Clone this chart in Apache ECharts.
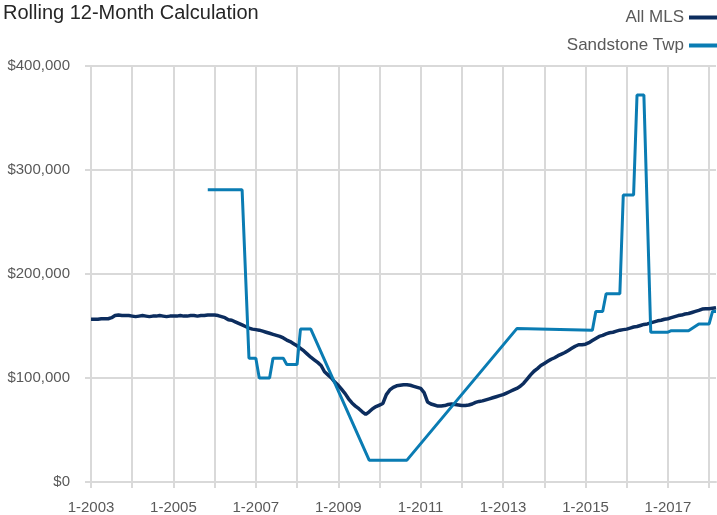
<!DOCTYPE html>
<html>
<head>
<meta charset="utf-8">
<script src="https://cdn.jsdelivr.net/npm/echarts@6/dist/echarts.min.js"></script>
<style>
  html, body { margin: 0; padding: 0; background: #fff; }
  #chart { width: 717px; height: 515px; }
</style>
</head>
<body>
<div id="chart"></div>
<script>
// monthly labels, 1-2003 .. 3-2018
var months = [];
for (var y = 2003; y <= 2018; y++) {
    for (var m = 1; m <= 12; m++) {
        if (y == 2018 && m > 3) break;
        months.push(m + '-' + y);
    }
}

// rolling 12-month values, in thousands of dollars
var allMls = [
    156.5, 156.5, 156.5, 157, 157, 157, 158, 160, 160.5, 160, 160, 160,      // 2003
    159.5, 159, 159.5, 160, 159.5, 159, 159.5, 159.5, 160, 159.5, 159, 159.5, // 2004
    159.5, 159.5, 160, 159.5, 159.5, 160, 160, 159.5, 160, 160, 160.5, 160.5, // 2005
    160.5, 160, 159, 158, 156, 155.5, 154, 152.5, 151, 149.5, 148, 147,       // 2006
    146.5, 146, 145, 144, 143, 142, 141, 140, 138.5, 136.5, 135, 133,         // 2007
    131, 128.5, 126, 123, 120, 117.5, 115, 112, 106, 103, 100, 96,            // 2008
    93, 89, 85, 80, 76, 73, 70.5, 67.5, 65, 67.5, 70.5, 72.5,                 // 2009
    74, 75.5, 84, 88.5, 91, 92.5, 93, 93.5, 93.5, 93, 92, 91,                 // 2010
    90, 86, 77, 75, 74, 73, 73, 73.5, 74.5, 75, 74.5, 74,                     // 2011
    73.5, 73.5, 74, 75, 76.5, 77.5, 78, 79, 80, 81, 82, 83,                   // 2012
    84, 85.5, 87, 88.5, 90, 92, 95, 99, 103, 106.5, 109, 112,                 // 2013
    114, 116, 118, 119.5, 121.5, 123, 124.5, 126.5, 128.5, 130.5, 132, 132,   // 2014
    132.5, 134, 136, 138, 140, 141, 142.5, 143.5, 144, 145, 146, 146.5,       // 2015
    147, 148, 149, 149.5, 150.5, 151.5, 152, 153, 154, 155, 155.5, 156.5,     // 2016
    157, 158, 159, 160, 160.5, 161.5, 162, 163, 164, 165, 166.3, 166.5,       // 2017
    166.5, 167, 167.5                                                         // 2018
];

// null = no sale that month, gaps are bridged by a straight line
var sandstone = [
    null, null, null, null, null, null, null, null, null, null, null, null,   // 2003
    null, null, null, null, null, null, null, null, null, null, null, null,   // 2004
    null, null, null, null, null, null, null, null, null, null, 281, 281,     // 2005
    281, 281, 281, 281, 281, 281, 281, 281, 281, null, 119, 119,              // 2006
    119, 100, 100, 100, 100, 119, 119, 119, 119, 113, 113, 113,               // 2007
    113, 147, 147, 147, 147, null, null, null, null, null, null, null,        // 2008
    null, null, null, null, null, null, null, null, null, 21, 21, 21,         // 2009
    21, 21, 21, 21, 21, 21, 21, 21, 21, null, null, null,                     // 2010
    null, null, null, null, null, null, null, null, null, null, null, null,   // 2011
    null, null, null, null, null, null, null, null, null, null, null, null,   // 2012
    null, null, null, null, 147.5, null, null, null, null, null, null, null,  // 2013
    null, null, null, null, null, null, null, null, null, null, null, null,   // 2014
    null, null, 146, 164, 164, 164, 181, 181, 181, 181, 181, 276,             // 2015
    276, 276, 276, 372, 372, 372, null, 144, 144, 144, 144, 144,              // 2016
    144, 145.5, 145.5, 145.5, 145.5, 145.5, 145.5, null, null, 152, 152, 152, // 2017
    152, 164, 164                                                             // 2018
];

var seriesNames = ['All MLS', 'Sandstone Twp'];
var seriesColors = ['#0c2d5e', '#0a7cb3'];

function toDollars(v) {
    return v == null ? null : v * 1000;
}

var dom = document.getElementById('chart');
var myChart = echarts.init(dom, null, { renderer: 'canvas' });
var gridColor = '#d9d9d9';
var labelColor = '#595959';
var font = "'Liberation Sans', Arial, sans-serif";

var option = {
    animation: false,
    textStyle: { fontFamily: font },
    title: {
        text: 'Rolling 12-Month Calculation',
        left: 3,
        top: 3,
        padding: 0,
        textStyle: { fontFamily: font, fontSize: 20, fontWeight: 'normal', color: '#262626' }
    },
    legend: {
        orient: 'vertical',
        right: 0,
        top: 9,
        padding: 0,
        align: 'right',
        itemGap: 11,
        itemWidth: 28,
        itemHeight: 4,
        icon: 'rect',
        data: seriesNames,
        textStyle: { fontFamily: font, fontSize: 17, color: labelColor }
    },
    grid: {
        left: 91,
        right: 1,
        top: 66,
        bottom: 33,
        containLabel: false,
        outerBoundsMode: 'none'
    },
    xAxis: {
        type: 'category',
        data: months,
        boundaryGap: false,
        axisLine: { show: true, lineStyle: { color: gridColor, width: 2 } },
        axisTick: { show: true, interval: 11, length: 6, lineStyle: { color: gridColor, width: 2 } },
        axisLabel: {
            interval: 23,
            margin: 18,
            fontFamily: font,
            fontSize: 15,
            color: labelColor
        },
        splitLine: { show: true, interval: 11, lineStyle: { color: gridColor, width: 2 } }
    },
    yAxis: {
        type: 'value',
        min: 0,
        max: 400000,
        interval: 100000,
        axisLine: { show: false },
        axisTick: { show: true, length: 6, lineStyle: { color: gridColor, width: 2 } },
        axisLabel: {
            margin: 21,
            padding: [4, 0, 0, 0],
            fontFamily: font,
            fontSize: 15,
            color: labelColor,
            formatter: function (v) {
                return '$' + v.toLocaleString('en-US');
            }
        },
        splitLine: { show: true, lineStyle: { color: gridColor, width: 2 } }
    },
    series: [
        {
            name: seriesNames[0],
            type: 'line',
            data: allMls.map(toDollars),
            showSymbol: false,
            symbol: 'none',
            color: seriesColors[0],
            lineStyle: { width: 3.5, color: seriesColors[0] }
        },
        {
            name: seriesNames[1],
            type: 'line',
            data: sandstone.map(toDollars),
            connectNulls: true,
            showSymbol: false,
            symbol: 'none',
            color: seriesColors[1],
            lineStyle: { width: 3, color: seriesColors[1] }
        }
    ]
};
myChart.setOption(option);
</script>
</body>
</html>
